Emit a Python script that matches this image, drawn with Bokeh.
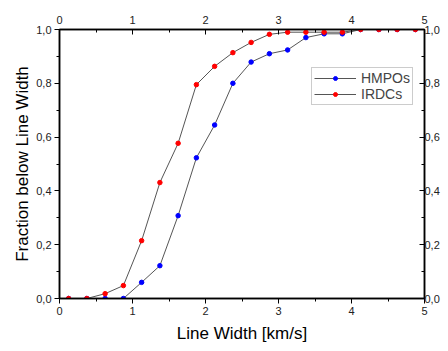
from bokeh.plotting import figure
from bokeh.models import (LinearAxis, FixedTicker, CustomJSTickFormatter, Legend, LegendItem, Range1d)
from bokeh.embed import file_html
from bokeh.resources import INLINE

# Data
line_width_bins = [0.125, 0.375, 0.625, 0.875, 1.125, 1.375, 1.625, 1.875, 2.125, 2.375,
                   2.625, 2.875, 3.125, 3.375, 3.625, 3.875, 4.125, 4.375, 4.625, 4.875]
hmpos = [0.0, 0.0, 0.0, 0.0, 0.06, 0.122, 0.308, 0.523, 0.645, 0.80,
         0.879, 0.91, 0.924, 0.97, 0.984, 0.984, 1.0, 1.0, 1.0, 1.0]
irdcs = [0.0, 0.0, 0.018, 0.048, 0.215, 0.431, 0.577, 0.795, 0.863, 0.914,
         0.952, 0.982, 0.99, 0.99, 0.99, 0.99, 1.0, 1.0, 1.0, 1.0]
x_ticks = [0, 1, 2, 3, 4, 5]
x_minor = [0.5, 1.5, 2.5, 3.5, 4.5]
y_ticks = [0.0, 0.2, 0.4, 0.6, 0.8, 1.0]
y_minor = [0.1, 0.3, 0.5, 0.7, 0.9]

FONT = "Liberation Sans"

p = figure(width=448, height=351, output_backend="svg", toolbar_location=None,
           x_range=Range1d(0, 5), y_range=Range1d(0, 1),
           x_axis_label="Line Width [km/s]", y_axis_label="Fraction below Line Width",
           min_border_left=59, min_border_right=24, min_border_top=29, min_border_bottom=53)
p.grid.visible = False
p.outline_line_color = "black"
p.outline_line_width = 1.5
p.background_fill_color = "white"
p.border_fill_color = "white"

fmt_y = CustomJSTickFormatter(code="return tick.toFixed(1).replace('.', ',');")
fmt_x = CustomJSTickFormatter(code="return tick.toFixed(0);")

def style(ax, inward):
    ax.axis_line_color = "black"
    ax.axis_line_width = 1.5
    ax.major_tick_line_color = "black"
    ax.minor_tick_line_color = "black"
    ax.major_tick_line_width = 1
    ax.minor_tick_line_width = 1
    if inward:
        ax.major_tick_in = 5
        ax.major_tick_out = 0
        ax.minor_tick_in = 3
        ax.minor_tick_out = 0
    else:
        ax.major_tick_in = 0
        ax.major_tick_out = 5
        ax.minor_tick_in = 0
        ax.minor_tick_out = 3
    ax.major_label_text_font = FONT
    ax.major_label_text_font_size = "11px"
    ax.major_label_text_color = "#222222"
    ax.axis_label_text_font = FONT
    ax.axis_label_text_font_size = "17px"
    ax.axis_label_text_font_style = "normal"
    ax.axis_label_text_color = "black"

p.xaxis.ticker = FixedTicker(ticks=x_ticks, minor_ticks=x_minor)
p.yaxis.ticker = FixedTicker(ticks=y_ticks, minor_ticks=y_minor)
p.xaxis.formatter = fmt_x
p.yaxis.formatter = fmt_y
for ax in p.xaxis + p.yaxis:
    style(ax, False)
p.xaxis.major_label_standoff = 3
p.yaxis.major_label_standoff = 3
p.xaxis.axis_label_standoff = 6
p.yaxis.axis_label_standoff = 1

top = LinearAxis(ticker=FixedTicker(ticks=x_ticks, minor_ticks=x_minor), formatter=fmt_x)
right = LinearAxis(ticker=FixedTicker(ticks=y_ticks, minor_ticks=y_minor), formatter=fmt_y)
style(top, True)
style(right, True)
top.major_label_standoff = 6
right.major_label_standoff = 0
p.add_layout(top, "above")
p.add_layout(right, "right")

l1 = p.line(line_width_bins, hmpos, line_color="#555555", line_width=1)
s1 = p.scatter(line_width_bins, hmpos, size=4.5, fill_color="#0000ff", line_color="#0000ff")
l2 = p.line(line_width_bins, irdcs, line_color="#555555", line_width=1)
s2 = p.scatter(line_width_bins, irdcs, size=4.5, fill_color="#ff0000", line_color="#ff0000")

legend = Legend(items=[LegendItem(label="HMPOs", renderers=[l1, s1]),
                       LegendItem(label="IRDCs", renderers=[l2, s2])],
                location=(252, 193))
legend.label_text_font = FONT
legend.label_text_font_size = "14px"
legend.border_line_color = "#999999"
legend.border_line_width = 1
legend.glyph_width = 42
legend.glyph_height = 10
legend.label_height = 14
legend.label_standoff = 5
legend.padding = 2
legend.spacing = 0
legend.margin = 0
legend.background_fill_alpha = 1
p.add_layout(legend, "center")

open("out.html", "w").write(file_html(p, INLINE))
